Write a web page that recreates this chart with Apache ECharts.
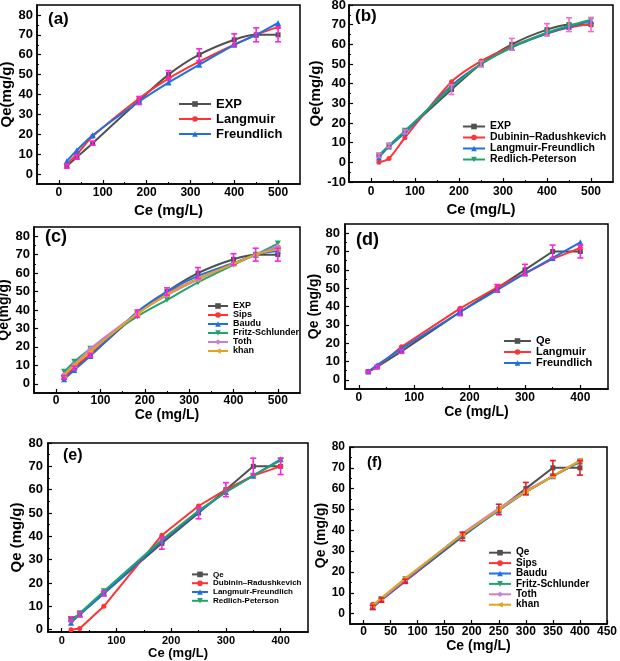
<!DOCTYPE html>
<html><head><meta charset="utf-8">
<script src="https://cdn.jsdelivr.net/npm/echarts@6/dist/echarts.min.js"></script>
<style>html,body{margin:0;padding:0;background:#fff}#c{width:620px;height:661px}</style>
</head><body><div id="c"></div>
<script>
// ---------- DATA ----------
// Panel (a)
const ceA = [18, 41, 77, 183, 250, 320, 400, 450, 500];
const expA = [4, 8.5, 15.5, 37, 50, 60, 67.5, 70, 70];
const errA = [1, 1, 1, 2, 2, 3, 3, 3.5, 3.5];
const langmuirA = [5, 10, 19, 38, 48, 56.5, 65, 70, 74];
const freundlichA = [6.5, 12, 19.5, 36.5, 46, 55, 65, 70, 76];
// Panel (b)
const ceB = [18, 41, 77, 183, 250, 320, 400, 450, 500];
const expB = [3.5, 8.5, 15.5, 37, 50, 60, 67.5, 70, 70];
const errB = [1, 1, 1, 2.5, 1.5, 3, 3, 3.5, 3.5];
const drB = [0, 2, 12.5, 41, 51.5, 59, 65.5, 68.5, 70.5];
const lfB = [2.5, 8, 15, 39, 50, 58.5, 65.5, 69, 72];
const rpB = [3.5, 8.5, 16, 38, 50, 58.5, 66, 69.5, 72.5];
// Panel (c)
const ceC = [18, 41, 77, 183, 250, 320, 400, 450, 500];
const expC = [3.5, 8.5, 15.5, 38, 50, 60, 67.5, 70, 70];
const errC = [1, 1, 1, 2, 2, 3, 3, 3.5, 3.5];
const sipsC = [4, 9, 16, 38.5, 49, 57, 65, 70, 74];
const bauduC = [2.5, 7.5, 15, 39, 50, 58.5, 65.5, 70, 72];
const fritzC = [6.5, 12, 19, 36.5, 45.5, 55, 64.5, 70, 76];
const tothC = [5, 10.5, 19, 38, 48, 56.5, 65, 70, 74.5];
const khanC = [4.5, 10, 17.5, 38, 48.5, 57, 65, 70, 73];
// Panel (d)
const ceD = [17, 33, 77, 183, 250, 300, 350, 400];
const qeD = [4.5, 7, 15.5, 37, 50, 60, 70, 70];
const errD = [0.5, 0.8, 1, 2, 2, 3, 3.5, 3.5];
const langmuirD = [4.5, 7, 18, 39, 50.5, 58, 66, 72];
const freundlichD = [4.5, 8, 17, 37, 49, 58, 66.5, 75];
// Panel (e)
const ceE = [17, 33, 77, 183, 250, 300, 350, 400];
const qeE = [4.5, 6.5, 15.5, 37, 50, 60, 70, 70];
const errE = [1, 1, 1, 2.5, 2.5, 3, 3.5, 3.5];
const drE = [0, 0.5, 10, 40.5, 53, 60, 66, 70];
const lfE = [3, 6.5, 15.5, 38, 50.5, 59, 66, 73];
const rpE = [3.5, 7, 16.5, 38.5, 51, 59, 66, 72.5];
// Panel (f)
const ceF = [17, 33, 77, 183, 250, 300, 350, 400];
const qeF = [3, 6.5, 15.5, 37, 50, 60, 70, 70];
const errF = [1, 1, 1, 2, 2.5, 3, 3.5, 3.5];
const sipsF = [4.5, 6.5, 15.5, 38, 50, 58.5, 66, 73];
const bauduF = [3, 6.5, 16, 37.5, 49.5, 58.5, 66, 73];
const fritzF = [3.5, 7, 16.5, 38, 50, 58.5, 66, 73];
const tothF = [3.5, 7, 16.5, 38.5, 50.5, 59, 66, 73.5];
const khanF = [4, 7.5, 17, 38, 50, 58.5, 66, 73.5];

// Tick labels
const xTicks500 = [0, 100, 200, 300, 400, 500];
const xMinor500 = [50, 150, 250, 350, 450];
const xTicks400 = [0, 100, 200, 300, 400];
const xMinor400 = [50, 150, 250, 350];
const xTicks450 = [0, 50, 100, 150, 200, 250, 300, 350, 400, 450];
const yTicks80 = [0, 10, 20, 30, 40, 50, 60, 70, 80];
const yTicksB = [-10, 0, 10, 20, 30, 40, 50, 60, 70, 80];
const yMinor = [5, 15, 25, 35, 45, 55, 65, 75];
const yMinorB = [-5, 5, 15, 25, 35, 45, 55, 65, 75];

// ---------- STYLE ----------
const FF = "'Liberation Sans', Arial, Helvetica, sans-serif";
const C = {
  gray: '#505050', red: '#ff3333', blue: '#1f6fe5', green: '#22a36a',
  violet: '#cc7fd0', orange: '#e5a21e', mag: '#ff22dd', pink: '#f76ad0', errRed: '#ee1c1c'
};
const SYM = {
  sq: 'rect', ci: 'circle', tri: 'triangle', dtri: 'path://M0,0 L10,0 L5,9 Z',
  dia: 'diamond', ltri: 'path://M0,5 L9,0 L9,10 Z'
};

const grids = [], xAxes = [], yAxes = [], series = [], legends = [], graphics = [];

function addPanel(p) {
  const gi = grids.length;
  grids.push({ left: p.grid[0], top: p.grid[1], width: p.grid[2], height: p.grid[3],
    show: true, borderColor: '#000', borderWidth: 1.5, outerBoundsMode: 'none', containLabel: false });
  const lblStyle = { fontWeight: 'bold', color: '#000', fontFamily: FF };
  xAxes.push({ type: 'value', gridIndex: gi, min: p.xr[0], max: p.xr[1], position: 'bottom',
    axisLine: { show: true, onZero: false, lineStyle: { color: '#000', width: 1.5 } },
    axisTick: { show: true, inside: true, length: 4, customValues: p.xt, lineStyle: { color: '#000', width: 1.2 } },
    axisLabel: Object.assign({ show: true, customValues: p.xt, fontSize: p.xfs, margin: p.xm }, lblStyle),
    splitLine: { show: false },
    name: 'Ce (mg/L)', nameLocation: 'middle', nameGap: p.xng,
    nameTextStyle: Object.assign({ fontSize: p.nfs }, lblStyle) });
  xAxes.push({ type: 'value', gridIndex: gi, min: p.xr[0], max: p.xr[1], position: 'bottom',
    axisLine: { show: false, onZero: false }, axisLabel: { show: false }, splitLine: { show: false },
    axisTick: { show: !!p.xmin, inside: true, length: 2, customValues: p.xmin || [], lineStyle: { color: '#000', width: 1 } } });
  yAxes.push({ type: 'value', gridIndex: gi, min: p.yr[0], max: p.yr[1], position: 'left',
    axisLine: { show: true, onZero: false, lineStyle: { color: '#000', width: 1.5 } },
    axisTick: { show: true, inside: true, length: 4, customValues: p.yt, lineStyle: { color: '#000', width: 1.2 } },
    axisLabel: Object.assign({ show: true, customValues: p.yt, fontSize: p.yfs, margin: p.ym }, lblStyle),
    splitLine: { show: false },
    name: p.yname, nameLocation: 'middle', nameGap: p.yng, nameRotate: 90,
    nameTextStyle: Object.assign({ fontSize: p.nfsY || p.nfs }, lblStyle) });
  yAxes.push({ type: 'value', gridIndex: gi, min: p.yr[0], max: p.yr[1], position: 'left',
    axisLine: { show: false, onZero: false }, axisLabel: { show: false }, splitLine: { show: false },
    axisTick: { show: true, inside: true, length: 2, customValues: p.ymin, lineStyle: { color: '#000', width: 1 } } });

  const names = [];
  p.lines.forEach((l, k) => {
    names.push(l.name);
    series.push({ type: 'line', name: l.name, xAxisIndex: gi * 2, yAxisIndex: gi * 2,
      data: p.ce.map((x, i) => [x, l.data[i]]), symbol: l.sym, symbolSize: l.ss || 5,
      smooth: p.smooth, lineStyle: { color: l.color, width: 2 }, itemStyle: { color: l.color },
      z: 2 + k, animation: false, silent: true });
  });
  const ec = p.errColor, base = p.lines[0].data;
  series.push({ type: 'custom', xAxisIndex: gi * 2, yAxisIndex: gi * 2, z: 20, silent: true, animation: false,
    data: p.ce.map((x, i) => [x, base[i], p.err[i]]),
    encode: { x: 0, y: 1 },
    renderItem: function (params, api) {
      const x = api.value(0), y = api.value(1), e = api.value(2);
      const lo = api.coord([x, y - e]), hi = api.coord([x, y + e]);
      const w = 3, st = { stroke: ec, lineWidth: 1.6 };
      return { type: 'group', children: [
        { type: 'line', shape: { x1: lo[0], y1: lo[1], x2: hi[0], y2: hi[1] }, style: st },
        { type: 'line', shape: { x1: lo[0] - w, y1: lo[1], x2: lo[0] + w, y2: lo[1] }, style: st },
        { type: 'line', shape: { x1: hi[0] - w, y1: hi[1], x2: hi[0] + w, y2: hi[1] }, style: st }
      ] };
    } });
  legends.push({ orient: 'vertical', left: p.lg[0], top: p.lg[1], itemWidth: p.lg[2], itemHeight: 7,
    itemGap: p.lg[3], padding: 0, selectedMode: false, data: names,
    textStyle: { fontSize: p.lg[4], fontWeight: 'bold', color: '#000', fontFamily: FF, lineHeight: p.lg[5] } });
  graphics.push({ type: 'text', left: p.tag[0], top: p.tag[1],
    style: { text: p.tag[2], font: 'bold ' + p.tag[3] + 'px ' + FF, fill: '#000' } });
}

addPanel({ grid: [37, 5, 263, 179], xr: [-50, 550], yr: [-5, 85], xt: xTicks500, xmin: xMinor500, yt: yTicks80, ymin: yMinor,
  xfs: 12, yfs: 13, xm: 3, ym: 4, nfs: 15, xng: 19, yng: 18, yname: 'Qe(mg/g)', smooth: 0.25, err: errA, errColor: C.mag, ce: ceA,
  lines: [ { name: 'EXP', data: expA, color: C.gray, sym: SYM.sq },
           { name: 'Langmuir', data: langmuirA, color: C.red, sym: SYM.ci },
           { name: 'Freundlich', data: freundlichA, color: C.blue, sym: SYM.tri, ss: 6 } ],
  lg: [178, 97, 32, 1, 13, 14], tag: [48, 11, '(a)', 17] });

addPanel({ grid: [349, 5, 264, 177], xr: [-50, 550], yr: [-10, 80], xt: xTicks500, xmin: xMinor500, yt: yTicksB, ymin: yMinorB,
  xfs: 12, yfs: 13, xm: 4, ym: 3, nfs: 15, xng: 20, yng: 25, yname: 'Qe(mg/g)', smooth: 0.25, err: errB, errColor: C.pink, ce: ceB,
  lines: [ { name: 'EXP', data: expB, color: C.gray, sym: SYM.sq },
           { name: 'Dubinin–Radushkevich', data: drB, color: C.red, sym: SYM.ci },
           { name: 'Langmuir-Freundlich', data: lfB, color: C.blue, sym: SYM.tri, ss: 6 },
           { name: 'Redlich-Peterson', data: rpB, color: C.green, sym: SYM.dtri, ss: 6 } ],
  lg: [462, 121, 22, 0, 10.5, 10.7], tag: [355, 8, '(b)', 17] });

addPanel({ grid: [34, 227, 266, 166], xr: [-50, 550], yr: [-5, 85], xt: xTicks500, xmin: xMinor500, yt: yTicks80, ymin: yMinor,
  xfs: 12, yfs: 13, xm: 2, ym: 4, nfs: 14, xng: 15, yng: 19, yname: 'Qe(mg/g)', smooth: 0.25, err: errC, errColor: C.mag, ce: ceC,
  lines: [ { name: 'EXP', data: expC, color: C.gray, sym: SYM.sq },
           { name: 'Sips', data: sipsC, color: C.red, sym: SYM.ci },
           { name: 'Baudu', data: bauduC, color: C.blue, sym: SYM.tri, ss: 6 },
           { name: 'Fritz-Schlunder', data: fritzC, color: C.green, sym: SYM.dtri, ss: 6 },
           { name: 'Toth', data: tothC, color: C.violet, sym: SYM.dia, ss: 6 },
           { name: 'khan', data: khanC, color: C.orange, sym: SYM.ltri, ss: 6 } ],
  lg: [207, 301.5, 20, 0, 9, 8.9], tag: [45, 228, '(c)', 18] });

addPanel({ grid: [345, 224, 263, 165], xr: [-25, 450], yr: [-5, 85], xt: xTicks400, xmin: xMinor400, yt: yTicks80, ymin: yMinor,
  xfs: 12, yfs: 13, xm: 3, ym: 5, nfs: 14, xng: 15, yng: 22, yname: 'Qe (mg/g)', smooth: false, err: errD, errColor: C.mag, ce: ceD,
  lines: [ { name: 'Qe', data: qeD, color: C.gray, sym: SYM.sq },
           { name: 'Langmuir', data: langmuirD, color: C.red, sym: SYM.ci },
           { name: 'Freundlich', data: freundlichD, color: C.blue, sym: SYM.tri, ss: 6 } ],
  lg: [503, 335.5, 27, 0, 11, 10.9], tag: [356, 231, '(d)', 18] });

addPanel({ grid: [48, 443, 260, 189], xr: [-25, 450], yr: [-1, 80], xt: xTicks400, xmin: xMinor400, yt: yTicks80, ymin: yMinor,
  xfs: 11, yfs: 13, xm: 3, ym: 5, nfs: 13, nfsY: 15, xng: 15, yng: 16, yname: 'Qe (mg/g)', smooth: false, err: errE, errColor: C.mag, ce: ceE,
  lines: [ { name: 'Qe', data: qeE, color: C.gray, sym: SYM.sq },
           { name: 'Dubinin–Radushkevich', data: drE, color: C.red, sym: SYM.ci },
           { name: 'Langmuir-Freundlich', data: lfE, color: C.blue, sym: SYM.tri, ss: 6 },
           { name: 'Redlich-Peterson', data: rpE, color: C.green, sym: SYM.dtri, ss: 6 } ],
  lg: [191, 570, 16, 0, 8, 8.8], tag: [63, 448, '(e)', 16] });

addPanel({ grid: [350, 447, 257, 177], xr: [-25, 450], yr: [-5, 80], xt: xTicks450, xmin: null, yt: yTicks80, ymin: yMinor,
  xfs: 12, yfs: 12, xm: 2, ym: 5, nfs: 14, xng: 15, yng: 20, yname: 'Qe (mg/g)', smooth: false, err: errF, errColor: C.errRed, ce: ceF,
  lines: [ { name: 'Qe', data: qeF, color: C.gray, sym: SYM.sq },
           { name: 'Sips', data: sipsF, color: C.red, sym: SYM.ci },
           { name: 'Baudu', data: bauduF, color: C.blue, sym: SYM.tri, ss: 6 },
           { name: 'Fritz-Schlunder', data: fritzF, color: C.green, sym: SYM.dtri, ss: 6 },
           { name: 'Toth', data: tothF, color: C.violet, sym: SYM.dia, ss: 6 },
           { name: 'khan', data: khanF, color: C.orange, sym: SYM.ltri, ss: 6 } ],
  lg: [488, 547.5, 22, 0, 10, 10.4], tag: [367, 455, '(f)', 15] });

const chart = echarts.init(document.getElementById('c'), null, { renderer: 'canvas' });
chart.setOption({
  animation: false, backgroundColor: '#fff',
  grid: grids, xAxis: xAxes, yAxis: yAxes, series: series, legend: legends, graphic: graphics
});
</script></body></html>
